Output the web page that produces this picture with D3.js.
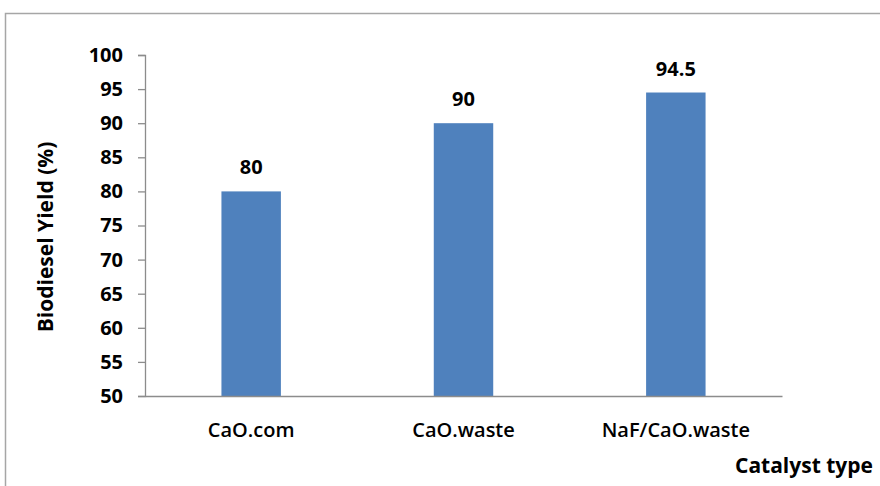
<!DOCTYPE html>
<html>
<head>
<meta charset="utf-8">
<script src="https://cdn.jsdelivr.net/npm/d3@7"></script>
<style>
  html, body { margin: 0; padding: 0; background: #fff; }
  svg { display: block; }
  text { font-family: "Open Sans", "Liberation Sans", sans-serif; fill: #000; }
</style>
</head>
<body>
<script>
// Biodiesel yield obtained with each catalyst
const categories = ["CaO.com", "CaO.waste", "NaF/CaO.waste"];
const yields = [80, 90, 94.5];
const yTicks = [50, 55, 60, 65, 70, 75, 80, 85, 90, 95, 100];
const yTitle = "Biodiesel Yield (%)";
const xTitle = "Catalyst type";

const W = 880, H = 486;
const plot = { left: 145, right: 782, top: 55, bottom: 396 };
const font = "'Open Sans', 'Liberation Sans', sans-serif";

const svg = d3.select("body").append("svg").attr("width", W).attr("height", H);

// outer frame
svg.append("rect")
  .attr("x", 5.5).attr("y", 13.5)
  .attr("width", W + 10).attr("height", H + 10)
  .attr("fill", "none").attr("stroke", "#a6a6a6").attr("stroke-width", 1.5);

const x = d3.scaleBand().domain(categories).range([plot.left, plot.right]).paddingInner(0.72).paddingOuter(0.36);
const y = d3.scaleLinear().domain([50, 100]).range([plot.bottom, plot.top]);

// bars
svg.selectAll("rect.bar").data(categories).join("rect")
  .attr("class", "bar")
  .attr("x", d => x(d))
  .attr("width", x.bandwidth())
  .attr("y", (d, i) => y(yields[i]))
  .attr("height", (d, i) => y(50) - y(yields[i]))
  .attr("fill", "#4f81bd");

// value labels
svg.selectAll("text.val").data(categories).join("text")
  .attr("class", "val")
  .attr("x", d => x(d) + x.bandwidth() / 2)
  .attr("y", (d, i) => y(yields[i]) - 17)
  .attr("text-anchor", "middle")
  .attr("font-size", 20).attr("font-weight", 700)
  .text((d, i) => yields[i]);

// y axis
const yAxis = svg.append("g").attr("transform", `translate(${plot.left},0)`)
  .call(d3.axisLeft(y).tickValues(yTicks).tickSize(7).tickPadding(15).tickFormat(d3.format("d")));
yAxis.select(".domain").attr("stroke", "#8c8c8c").attr("stroke-width", 1.3);
yAxis.selectAll(".tick line").attr("stroke", "#8c8c8c").attr("stroke-width", 1.3);
yAxis.selectAll(".tick text").attr("font-size", 20).attr("font-weight", 700).attr("fill", "#000")
  .style("font-family", font);

// x axis
const xAxis = svg.append("g").attr("transform", `translate(0,${plot.bottom})`)
  .call(d3.axisBottom(x).tickSize(0).tickPadding(0));
xAxis.select(".domain").attr("stroke", "#8c8c8c").attr("stroke-width", 1.3);
xAxis.selectAll(".tick text")
  .attr("y", 41).attr("dy", null)
  .attr("font-size", 20).attr("font-weight", 600).attr("fill", "#000")
  .style("font-family", font);

// axis titles
svg.append("text")
  .attr("transform", `translate(45,237) rotate(-90)`)
  .attr("dy", "0.36em")
  .attr("text-anchor", "middle")
  .attr("font-size", 21).attr("font-weight", 700)
  .text(yTitle);

svg.append("text")
  .attr("x", 873).attr("y", 473)
  .attr("text-anchor", "end")
  .attr("font-size", 21).attr("font-weight", 700)
  .text(xTitle);
</script>
</body>
</html>
